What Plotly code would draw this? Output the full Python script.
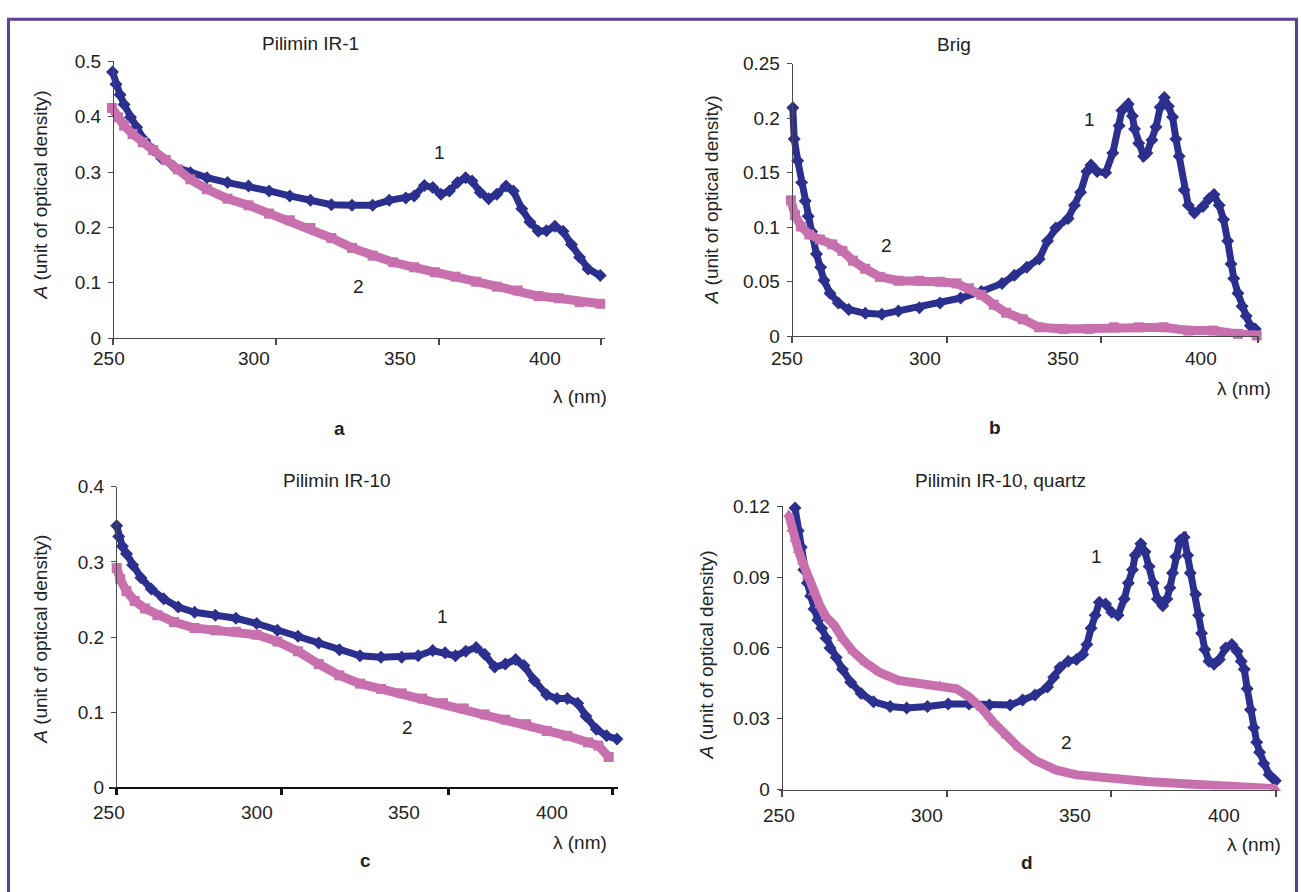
import plotly.graph_objects as go

W, H = 1301, 892

# ---------------- data (wavelength nm, absorbance) ----------------
# Panel a: Pilimin IR-1
a1_x = [251.2, 252.4, 253.8, 255.2, 257.4, 259.5, 262.3, 265.2, 268.1, 272.3, 278.0, 283.7, 290.8, 298.0,
        305.1, 312.2, 319.3, 326.5, 333.6, 340.7, 346.4, 352.1, 355.0, 358.5, 361.4, 364.2, 367.1, 369.9,
        372.7, 374.9, 377.7, 380.6, 383.4, 386.6, 389.1, 392.0, 394.8, 397.7, 400.5, 403.4, 406.2, 409.1,
        411.9, 414.8, 419.0]
a1_y = [0.481, 0.459, 0.440, 0.422, 0.399, 0.381, 0.357, 0.340, 0.325, 0.310, 0.299, 0.290, 0.281, 0.275,
        0.266, 0.257, 0.249, 0.241, 0.240, 0.240, 0.249, 0.253, 0.257, 0.276, 0.272, 0.260, 0.266, 0.281,
        0.290, 0.284, 0.263, 0.252, 0.260, 0.275, 0.266, 0.234, 0.210, 0.193, 0.194, 0.202, 0.193, 0.169,
        0.146, 0.125, 0.113]
a2_x = [251.0, 253.1, 255.2, 258.1, 261.7, 265.2, 269.5, 273.7, 278.0, 283.7, 290.8, 298.0, 305.1, 312.2,
        319.3, 326.5, 333.6, 340.7, 347.8, 355.0, 362.1, 369.2, 376.3, 383.4, 390.6, 397.7, 404.8, 411.9, 419.0]
a2_y = [0.416, 0.399, 0.384, 0.369, 0.354, 0.340, 0.322, 0.305, 0.287, 0.269, 0.252, 0.240, 0.225, 0.213,
        0.199, 0.181, 0.163, 0.149, 0.137, 0.128, 0.119, 0.111, 0.102, 0.093, 0.086, 0.076, 0.072, 0.065, 0.062]

# Panel b: Brig
b1_x = [252.0, 252.5, 253.8, 255.2, 256.5, 257.6, 258.8, 260.6, 262.1, 263.3, 265.5, 268.5, 272.3, 278.3,
        284.3, 290.3, 297.9, 305.4, 312.9, 320.4, 327.9, 332.4, 336.9, 341.4, 344.4, 347.4, 351.9, 354.2,
        356.4, 358.7, 360.2, 362.4, 365.5, 368.1, 370.4, 371.4, 373.7, 375.2, 376.0, 377.5, 379.3, 380.5,
        382.3, 383.8, 385.3, 386.8, 388.3, 389.8, 391.0, 392.2, 394.0, 395.5, 397.7, 400.8, 403.0, 404.8,
        406.7, 408.3, 409.8, 411.0, 412.0, 413.5, 415.0, 416.5, 418.0, 419.8]
b1_y = [0.2097, 0.181, 0.161, 0.141, 0.124, 0.110, 0.0961, 0.0753, 0.0633, 0.0513, 0.0394, 0.0305, 0.0245,
        0.0209, 0.020, 0.023, 0.026, 0.0305, 0.035, 0.041, 0.0484, 0.0558, 0.0633, 0.0708, 0.0872, 0.0992,
        0.108, 0.120, 0.132, 0.151, 0.157, 0.151, 0.150, 0.168, 0.193, 0.207, 0.213, 0.202, 0.190, 0.177,
        0.165, 0.168, 0.180, 0.192, 0.210, 0.219, 0.211, 0.201, 0.181, 0.165, 0.134, 0.120, 0.113, 0.119,
        0.126, 0.130, 0.120, 0.107, 0.0872, 0.0663, 0.0529, 0.0394, 0.0275, 0.0185, 0.0096, 0.0065]
b2_x = [251.3, 252.8, 255.0, 258.0, 261.8, 266.3, 270.0, 273.8, 278.3, 283.6, 290.3, 297.9, 305.4, 311.4,
        315.9, 320.4, 324.9, 329.4, 335.4, 341.4, 350.4, 359.4, 368.5, 377.5, 386.5, 395.5, 404.5, 413.5, 420.3]
b2_y = [0.1246, 0.111, 0.1006, 0.0932, 0.0887, 0.0842, 0.0782, 0.0693, 0.0618, 0.0544, 0.0508, 0.0508,
        0.0499, 0.0484, 0.0439, 0.0379, 0.0289, 0.0215, 0.0155, 0.0081, 0.0066, 0.0066, 0.0081, 0.0081,
        0.0081, 0.0051, 0.0051, 0.0021, 0.0006]

# Panel c: Pilimin IR-10
c1_x = [252.6, 253.3, 254.5, 255.9, 258.0, 260.8, 264.3, 268.5, 273.4, 279.0, 286.0, 293.0, 300.0, 307.0,
        314.0, 321.0, 328.0, 335.0, 342.1, 349.1, 354.7, 359.6, 363.8, 367.3, 370.8, 374.3, 377.2, 380.6,
        384.2, 387.7, 390.5, 394.0, 398.2, 401.7, 405.2, 408.7, 411.5, 415.0, 418.5, 422.0]
c1_y = [0.348, 0.334, 0.321, 0.311, 0.296, 0.279, 0.264, 0.251, 0.240, 0.233, 0.229, 0.225, 0.218, 0.209,
        0.201, 0.192, 0.183, 0.175, 0.173, 0.173, 0.175, 0.182, 0.179, 0.175, 0.181, 0.186, 0.177, 0.160,
        0.164, 0.170, 0.162, 0.142, 0.123, 0.118, 0.118, 0.112, 0.0945, 0.0771, 0.0685, 0.0641]
c2_x = [252.6, 253.8, 255.9, 258.7, 262.2, 266.4, 272.0, 279.0, 286.0, 293.0, 300.0, 307.0, 314.0, 321.0,
        328.0, 335.0, 342.1, 349.1, 356.1, 363.1, 370.1, 377.2, 384.2, 391.2, 398.2, 405.2, 412.2, 415.7, 419.2]
c2_y = [0.292, 0.277, 0.261, 0.248, 0.238, 0.229, 0.220, 0.212, 0.209, 0.207, 0.203, 0.194, 0.181, 0.164,
        0.149, 0.138, 0.131, 0.125, 0.118, 0.112, 0.105, 0.097, 0.090, 0.084, 0.075, 0.0685, 0.0598, 0.0555,
        0.0403]

# Panel d: Pilimin IR-10, quartz
d1_x = [255.4, 256.5, 257.5, 258.4, 259.6, 260.7, 261.8, 263.1, 264.4, 265.9, 267.2, 269.3, 271.4, 274.2,
        277.7, 281.9, 287.5, 293.1, 300.1, 307.1, 314.1, 321.0, 328.0, 332.2, 336.4, 340.6, 342.7, 344.8,
        347.6, 350.4, 352.5, 353.9, 355.3, 356.7, 358.1, 360.2, 362.3, 364.4, 366.5, 367.9, 369.3, 370.2,
        372.1, 373.5, 374.9, 376.3, 377.7, 379.5, 380.9, 381.9, 382.8, 383.9, 385.3, 386.7, 387.9, 388.8,
        390.6, 391.6, 392.6, 393.7, 395.1, 396.8, 398.6, 400.7, 402.8, 404.6, 406.0, 407.0, 408.0, 409.1,
        410.2, 411.2, 412.2, 413.6, 415.4, 417.5]
d1_y = [0.1193, 0.1096, 0.1027, 0.0931, 0.0875, 0.0820, 0.0765, 0.0717, 0.0683, 0.0641, 0.0600, 0.0559,
        0.0510, 0.0455, 0.0407, 0.0372, 0.0352, 0.0345, 0.0352, 0.0362, 0.0362, 0.0358, 0.0358, 0.0379,
        0.0400, 0.0434, 0.0476, 0.0517, 0.0544, 0.0551, 0.0572, 0.0614, 0.0683, 0.0738, 0.0793, 0.0786,
        0.0751, 0.0738, 0.0807, 0.0875, 0.0931, 0.0993, 0.1041, 0.1007, 0.0945, 0.0875, 0.0807, 0.0779,
        0.0807, 0.0855, 0.0917, 0.0986, 0.1055, 0.1069, 0.0993, 0.0917, 0.0827, 0.0738, 0.0662, 0.0593,
        0.0544, 0.0531, 0.0551, 0.0600, 0.0614, 0.0586, 0.0544, 0.0510, 0.0427, 0.0338, 0.0262, 0.0200,
        0.0158, 0.0110, 0.0062, 0.0037]
d2_x = [253.3, 254.3, 255.4, 256.5, 257.9, 259.6, 261.7, 263.8, 265.9, 268.7, 271.4, 274.9, 279.1, 284.0,
        290.3, 297.3, 304.3, 309.9, 314.1, 318.3, 322.5, 326.6, 330.8, 336.4, 343.4, 350.4, 360.2, 374.2,
        388.1, 402.1, 417.5]
d2_y = [0.1165, 0.1103, 0.1062, 0.1014, 0.0965, 0.0903, 0.0834, 0.0779, 0.0731, 0.0696, 0.0641, 0.0586,
        0.0538, 0.0496, 0.0462, 0.0448, 0.0441, 0.0427, 0.0393, 0.0345, 0.0283, 0.0228, 0.0179, 0.0124,
        0.0083, 0.0062, 0.0048, 0.0034, 0.0023, 0.0014, 0.0004]

x_tick_labels = ["250", "300", "350", "400"]
x_tick_values = [250, 300, 350, 400]

titles = ["Pilimin IR-1", "Brig", "Pilimin IR-10", "Pilimin IR-10, quartz"]
panel_letters = ["a", "b", "c", "d"]

a_yticks = [0, 0.1, 0.2, 0.3, 0.4, 0.5]
a_ytext = ["0", "0.1", "0.2", "0.3", "0.4", "0.5"]
b_yticks = [0, 0.05, 0.1, 0.15, 0.2, 0.25]
b_ytext = ["0", "0.05", "0.1", "0.15", "0.2", "0.25"]
c_yticks = [0, 0.1, 0.2, 0.3, 0.4]
c_ytext = ["0", "0.1", "0.2", "0.3", "0.4"]
d_yticks = [0, 0.03, 0.06, 0.09, 0.12]
d_ytext = ["0", "0.03", "0.06", "0.09", "0.12"]

# curve label anchor positions (nm, A)
curve_labels = [
    [("1", 363.8, 0.336), ("2", 335.9, 0.094)],
    [("1", 359.5, 0.199), ("2", 286.1, 0.0836)],
    [("1", 362.8, 0.2267), ("2", 351.2, 0.0793)],
    [("1", 357.1, 0.0986), ("2", 346.9, 0.020)],
]

# ---------------- layout geometry (pixels) ----------------
panels = [
    dict(s1=(a1_x, a1_y), s2=(a2_x, a2_y), m2="square", yt=a_yticks, ytt=a_ytext, ymax=0.5,
         p250=109, p400=545, yax_px=113, right_px=605, y0_px=336, ytop_px=52.7,
         tick_px=[113, 276, 439, 601], lab_y=357, title_xy=(310, 34), lam_xy=(580, 396),
         letter_xy=(339, 429), ytitle_xy=(41, 190), xline_w=1, xline_c="#4a4a4a"),
    dict(s1=(b1_x, b1_y), s2=(b2_x, b2_y), m2="square", yt=b_yticks, ytt=b_ytext, ymax=0.25,
         p250=787.3, p400=1200.7, yax_px=791.7, right_px=1259, y0_px=334, ytop_px=55,
         tick_px=[791.7, 946.7, 1100.7, 1257.7], lab_y=357, title_xy=(954, 35), lam_xy=(1244, 388),
         letter_xy=(995, 428), ytitle_xy=(711, 195), xline_w=1, xline_c="#4a4a4a"),
    dict(s1=(c1_x, c1_y), s2=(c2_x, c2_y), m2="square", yt=c_yticks, ytt=c_ytext, ymax=0.4,
         p250=109, p400=552, yax_px=116, right_px=618, y0_px=796, ytop_px=488.3,
         tick_px=[116, 281, 448, 612], lab_y=822, title_xy=(337, 482), lam_xy=(580, 853),
         letter_xy=(365, 871), ytitle_xy=(41, 645), xline_w=2, xline_c="#111111"),
    dict(s1=(d1_x, d1_y), s2=(d2_x, d2_y), m2="triangle-up", yt=d_yticks, ytt=d_ytext, ymax=0.12,
         p250=779, p400=1223.5, yax_px=781.7, right_px=1278, y0_px=798.3, ytop_px=508.3,
         tick_px=[781.7, 947.3, 1110.9, 1276], lab_y=825, title_xy=(1000, 482), lam_xy=(1254, 855),
         letter_xy=(1027, 873), ytitle_xy=(706, 661), xline_w=1, xline_c="#4a4a4a"),
]

BLUE = "#2b2f8e"
PINK = "#c870ae"
TXT = "#222222"
FONT = "Arial, Liberation Sans, sans-serif"
FS = 19


def fx(px):
    return px / W


def fy(py):
    return 1 - py / H


fig = go.Figure()
annotations = []
layout = dict(
    width=W, height=H, margin=dict(l=0, r=0, t=0, b=0),
    paper_bgcolor="white", plot_bgcolor="white", showlegend=False,
    font=dict(family=FONT, size=FS, color=TXT),
)

for i, p in enumerate(panels):
    n = "" if i == 0 else str(i + 1)
    xa, ya = "x" + n, "y" + n
    s = (p["p400"] - p["p250"]) / 150.0
    to_nm = lambda px, p=p, s=s: 250 + (px - p["p250"]) / s
    xr = [250, to_nm(p["right_px"])]

    fig.add_trace(go.Scatter(
        x=p["s1"][0], y=p["s1"][1], xaxis=xa, yaxis=ya, mode="lines+markers",
        line=dict(color=BLUE, width=7), marker=dict(symbol="diamond", size=10, color=BLUE),
        cliponaxis=False))
    fig.add_trace(go.Scatter(
        x=p["s2"][0], y=p["s2"][1], xaxis=xa, yaxis=ya, mode="lines+markers",
        line=dict(color=PINK, width=9), marker=dict(symbol=p["m2"], size=10, color=PINK),
        cliponaxis=False))

    layout["xaxis" + n] = dict(
        domain=[fx(p["p250"]), fx(p["right_px"])], range=xr, anchor=ya,
        showgrid=False, zeroline=False, showline=True, linecolor=p["xline_c"], linewidth=p["xline_w"],
        ticks="outside", ticklen=6, tickwidth=p["xline_w"] + 0.5, tickcolor=p["xline_c"],
        tickvals=[to_nm(t) for t in p["tick_px"]], showticklabels=False,
    )
    layout["yaxis" + n] = dict(
        domain=[fy(p["y0_px"]), fy(p["ytop_px"])], range=[0, p["ymax"]],
        anchor="free", position=fx(p["yax_px"]),
        showgrid=False, zeroline=False, showline=True, linecolor="#4a4a4a", linewidth=1,
        ticks="outside", ticklen=5, tickcolor="#4a4a4a",
        tickvals=p["yt"], ticktext=p["ytt"], tickfont=dict(size=FS, color=TXT),
        ticklabelstandoff=3,
    )

    # x tick labels (placed on the data scale)
    for v, t in zip(x_tick_values, x_tick_labels):
        annotations.append(dict(x=v, xref=xa, y=fy(p["lab_y"]), yref="paper", text=t,
                                showarrow=False, xanchor="center", yanchor="middle",
                                font=dict(size=FS, color=TXT)))
    # title
    annotations.append(dict(x=fx(p["title_xy"][0]), y=fy(p["title_xy"][1]), xref="paper", yref="paper",
                            text=titles[i], showarrow=False, xanchor="center", yanchor="middle",
                            font=dict(size=FS, color=TXT)))
    # lambda label
    annotations.append(dict(x=fx(p["lam_xy"][0]), y=fy(p["lam_xy"][1]), xref="paper", yref="paper",
                            text="λ (nm)", showarrow=False, xanchor="center", yanchor="middle",
                            font=dict(size=FS, color=TXT)))
    # panel letter
    annotations.append(dict(x=fx(p["letter_xy"][0]), y=fy(p["letter_xy"][1]), xref="paper", yref="paper",
                            text="<b>" + panel_letters[i] + "</b>", showarrow=False, xanchor="center",
                            yanchor="middle", font=dict(size=FS, color=TXT)))
    # y title
    annotations.append(dict(x=fx(p["ytitle_xy"][0]), y=fy(p["ytitle_xy"][1]), xref="paper", yref="paper",
                            text="<i>A</i> (unit of optical density)", showarrow=False, textangle=-90,
                            xanchor="center", yanchor="middle", font=dict(size=FS, color=TXT)))
    # curve labels
    for t, xv, yv in curve_labels[i]:
        annotations.append(dict(x=xv, y=yv, xref=xa, yref=ya, text=t, showarrow=False,
                                xanchor="center", yanchor="middle", font=dict(size=FS, color=TXT)))

layout["annotations"] = annotations
layout["shapes"] = [dict(type="rect", xref="paper", yref="paper",
                         x0=fx(8.5), x1=fx(1296.5), y0=fy(905), y1=fy(9.5),
                         line=dict(color="#5e3f9a", width=3), fillcolor="rgba(0,0,0,0)")]
fig.update_layout(**layout)
fig.write_html("out.html")
